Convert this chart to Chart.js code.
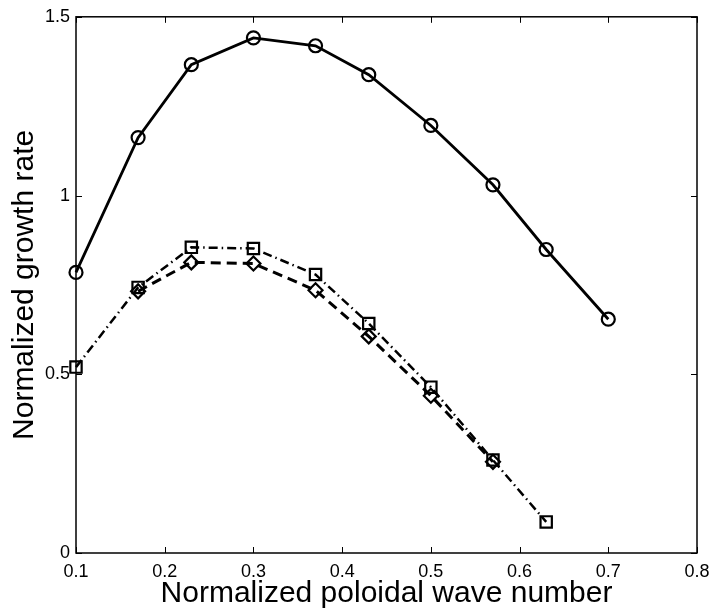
<!DOCTYPE html>
<html>
<head>
<meta charset="utf-8">
<script src="https://cdn.jsdelivr.net/npm/chart.js@4/dist/chart.umd.min.js"></script>
<style>
    html, body { margin: 0; padding: 0; background: #fff; }
    #wrap { width: 712px; height: 609px; }
</style>
</head>
<body>
<div id="wrap"><canvas id="chart" width="712" height="609"></canvas></div>
<script>
// Growth rate vs poloidal wave number
const circleX = [0.1, 0.17, 0.23, 0.3, 0.37, 0.43, 0.5, 0.57, 0.63, 0.7];
const circleRates = [0.785, 1.162, 1.366, 1.441, 1.419, 1.338, 1.196, 1.030, 0.849, 0.654];

const squareX = [0.1, 0.17, 0.23, 0.3, 0.37, 0.43, 0.5, 0.57, 0.63];
const squareRates = [0.52, 0.743, 0.855, 0.852, 0.779, 0.642, 0.464, 0.26, 0.087];

const diamondX = [0.17, 0.23, 0.3, 0.37, 0.43, 0.5, 0.57];
const diamondRates = [0.732, 0.813, 0.81, 0.735, 0.606, 0.44, 0.255];

const xTicks = [0.1, 0.2, 0.3, 0.4, 0.5, 0.6, 0.7, 0.8];
const yTicks = [0, 0.5, 1, 1.5];

const FONT = "'Liberation Sans', Arial, Helvetica, sans-serif";

function toPoints(xs, ys) {
    return xs.map((x, i) => ({ x: x, y: ys[i] }));
}

// frame with inward ticks on all four sides, like a boxed axes
const boxFrame = {
    id: 'boxFrame',
    beforeDatasetsDraw(chart) {
        const { ctx, chartArea: a, scales: { x, y } } = chart;
        const len = 6;
        ctx.save();
        ctx.strokeStyle = '#000';
        ctx.lineWidth = 1.5;
        ctx.strokeRect(a.left, a.top, a.right - a.left, a.bottom - a.top);
        ctx.lineWidth = 1;
        ctx.beginPath();
        xTicks.forEach(v => {
            const px = Math.round(x.getPixelForValue(v)) + 0.5;
            ctx.moveTo(px, a.bottom); ctx.lineTo(px, a.bottom - len);
            ctx.moveTo(px, a.top); ctx.lineTo(px, a.top + len);
        });
        yTicks.forEach(v => {
            const py = Math.round(y.getPixelForValue(v)) + 0.5;
            ctx.moveTo(a.left, py); ctx.lineTo(a.left + len, py);
            ctx.moveTo(a.right, py); ctx.lineTo(a.right - len, py);
        });
        ctx.stroke();
        ctx.restore();
    }
};

new Chart(document.getElementById('chart'), {
    type: 'scatter',
    data: {
        datasets: [{
            data: toPoints(circleX, circleRates),
            showLine: true,
            clip: false,
            borderColor: '#000',
            borderWidth: 2.8,
            pointStyle: 'circle',
            pointRadius: 6.5,
            pointBorderWidth: 2.2,
            pointBackgroundColor: 'rgba(0,0,0,0)',
            pointBorderColor: '#000'
        }, {
            data: toPoints(diamondX, diamondRates),
            showLine: true,
            clip: false,
            borderColor: '#000',
            borderWidth: 3,
            borderDash: [10, 6],
            pointStyle: 'rectRot',
            pointRadius: 7,
            pointBorderWidth: 2.2,
            pointBackgroundColor: 'rgba(0,0,0,0)',
            pointBorderColor: '#000'
        }, {
            data: toPoints(squareX, squareRates),
            showLine: true,
            clip: false,
            borderColor: '#000',
            borderWidth: 2.5,
            borderDash: [9, 4, 1.5, 4],
            pointStyle: 'rect',
            pointRadius: 8,
            pointBorderWidth: 2.2,
            pointBackgroundColor: 'rgba(0,0,0,0)',
            pointBorderColor: '#000'
        }]
    },
    options: {
        responsive: false,
        animation: false,
        devicePixelRatio: 1,
        layout: { padding: { left: 0, right: 15, top: 16, bottom: 0 } },
        plugins: {
            legend: { display: false },
            tooltip: { enabled: false }
        },
        scales: {
            x: {
                type: 'linear',
                min: 0.1,
                max: 0.8,
                afterBuildTicks: scale => { scale.ticks = xTicks.map(v => ({ value: v })); },
                afterFit: scale => {
                    scale.height = 56;
                    scale.paddingLeft = 0;
                    scale.paddingRight = 0;
                },
                grid: { display: false, drawTicks: false },
                border: { display: false },
                ticks: {
                    autoSkip: false,
                    maxRotation: 0,
                    padding: 8,
                    color: '#000',
                    font: { family: FONT, size: 18 },
                    callback: v => String(v)
                },
                title: {
                    display: true,
                    text: 'Normalized poloidal wave number',
                    color: '#000',
                    font: { family: FONT, size: 30, lineHeight: 1 },
                    padding: { top: 0, bottom: 0 }
                }
            },
            y: {
                type: 'linear',
                min: 0,
                max: 1.5,
                afterBuildTicks: scale => { scale.ticks = yTicks.map(v => ({ value: v })); },
                afterFit: scale => { scale.width = 76; },
                grid: { display: false, drawTicks: false },
                border: { display: false },
                ticks: {
                    padding: 6,
                    color: '#000',
                    font: { family: FONT, size: 18 },
                    callback: v => String(v)
                },
                title: {
                    display: true,
                    text: 'Normalized growth rate',
                    color: '#000',
                    font: { family: FONT, size: 30, lineHeight: 1 },
                    padding: { top: 10, bottom: 0 }
                }
            }
        }
    },
    plugins: [boxFrame]
});
</script>
</body>
</html>
